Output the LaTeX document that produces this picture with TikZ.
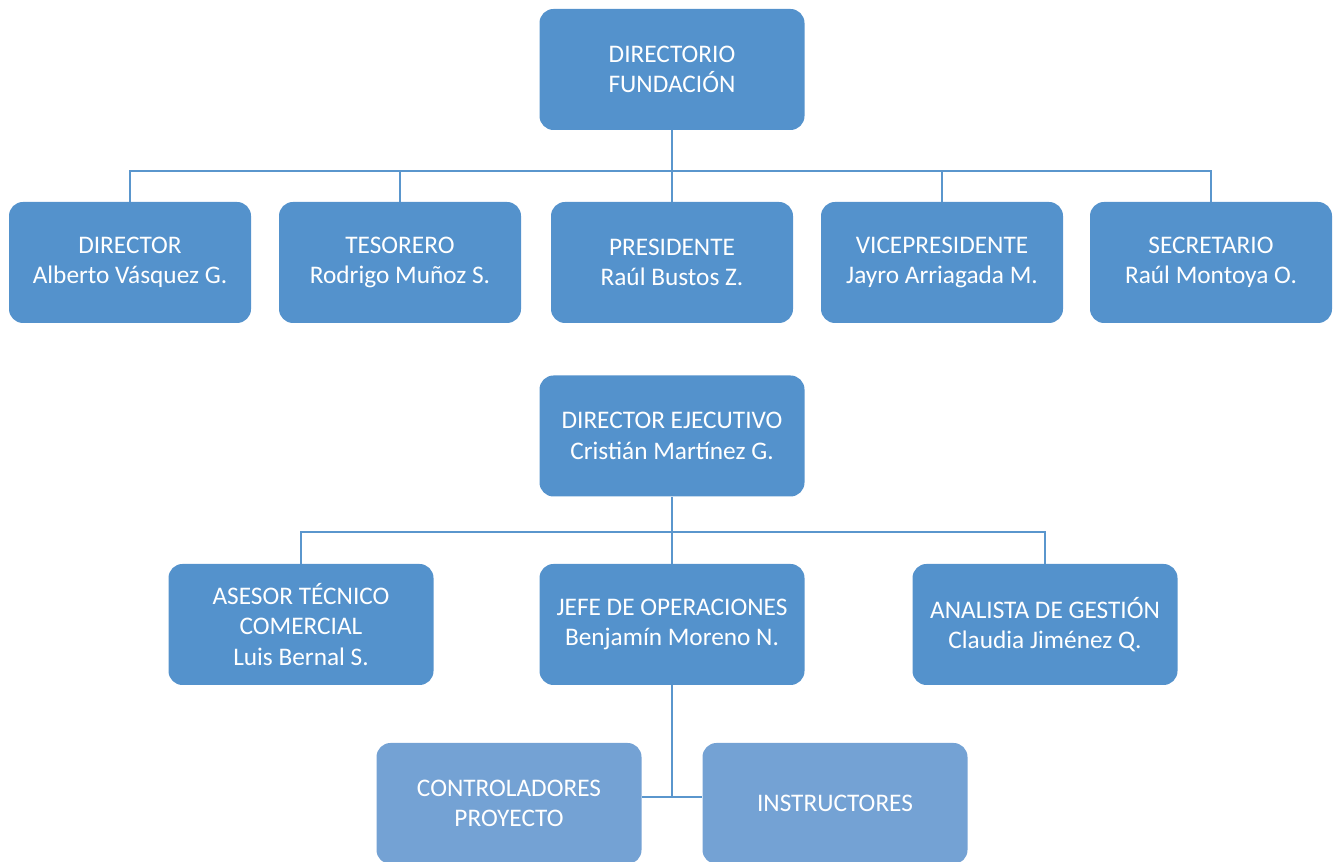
\documentclass[tikz,border=0pt]{standalone}
\usepackage{fontspec}
\setmainfont{Carlito}
\usepackage{tikz}
\usetikzlibrary{calc}

\definecolor{boxblue}{RGB}{84,146,204}
\definecolor{lightblue}{RGB}{116,162,212}
\definecolor{linkblue}{RGB}{90,150,205}

\tikzset{
  post/.style={fill=boxblue, draw=none, rounded corners=0.28cm, text=white,
    align=center, inner sep=2pt, minimum height=2.42cm,
    font=\fontsize{14.4}{17.2}\selectfont},
  wide/.style={post, minimum width=5.3cm},
  narrow/.style={post, minimum width=4.84cm},
  team/.style={wide, fill=lightblue},
  link/.style={draw=linkblue, line width=1.4pt}
}

\begin{document}
\begin{tikzpicture}
  \useasboundingbox (0,0) rectangle (26.74,17.24);
  \coordinate (b1) at (13.44,13.82);
  \coordinate (b2) at (13.44,6.6);
  \coordinate (b3) at (13.44,1.3);
  % directorio
  \node[wide] (dirf) at (13.44,15.85) {DIRECTORIO\\FUNDACIÓN};
  \node[narrow] (dir) at (2.6,11.99) {DIRECTOR\\Alberto Vásquez G.};
  \node[narrow] (tes) at (8.0,11.99) {TESORERO\\Rodrigo Muñoz S.};
  \node[narrow] (pres) at (13.44,11.99) {PRESIDENTE\\Raúl Bustos Z.};
  \node[narrow] (vice) at (18.84,11.99) {VICEPRESIDENTE\\Jayro Arriagada M.};
  \node[narrow] (sec) at (24.22,11.99) {SECRETARIO\\Raúl Montoya O.};
  % ejecutivo
  \node[wide] (direj) at (13.44,8.52) {DIRECTOR EJECUTIVO\\Cristián Martínez G.};
  \node[wide] (ases) at (6.02,4.75) {ASESOR TÉCNICO\\COMERCIAL\\Luis Bernal S.};
  \node[wide] (jefe) at (13.44,4.75) {JEFE DE OPERACIONES\\Benjamín Moreno N.};
  \node[wide] (anal) at (20.9,4.75) {ANALISTA DE GESTIÓN\\Claudia Jiménez Q.};
  \node[team] (ctrl) at (10.18,1.17) {CONTROLADORES\\PROYECTO};
  \node[team] (inst) at (16.7,1.17) {INSTRUCTORES};
  % lineas
  \draw[link] (dirf.south) -- (pres.north);
  \draw[link] (dir.north) |- (b1) -| (sec.north);
  \draw[link] (tes.north) -- (tes.north |- b1);
  \draw[link] (vice.north) -- (vice.north |- b1);
  \draw[link] (direj.south) -- (jefe.north);
  \draw[link] (ases.north) |- (b2) -| (anal.north);
  \draw[link] (jefe.south) -- (b3);
  \draw[link] (ctrl.east |- b3) -- (inst.west |- b3);
\end{tikzpicture}
\end{document}
